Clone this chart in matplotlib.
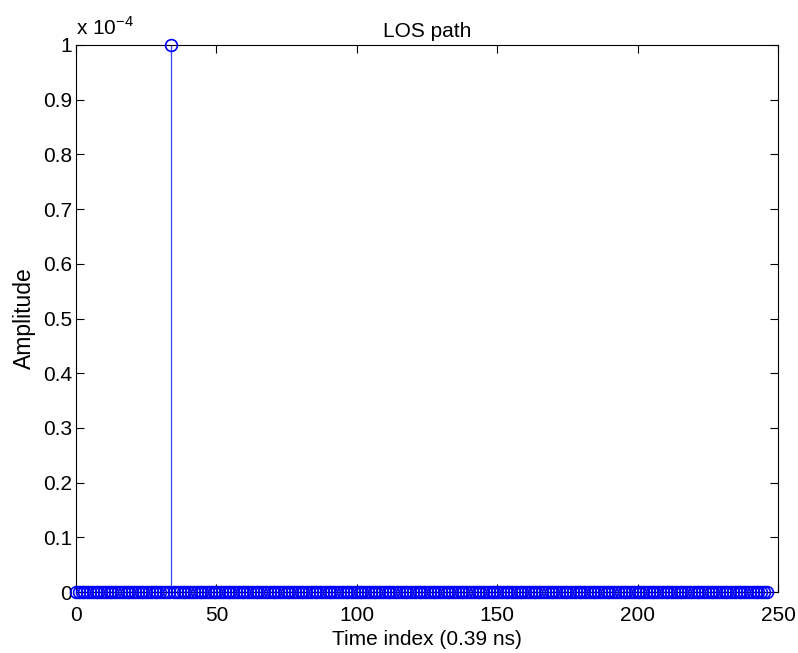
import numpy as np
import matplotlib.pyplot as plt

plt.rcParams['font.family'] = ['Liberation Sans', 'DejaVu Sans']

# channel taps: single line-of-sight component
n_taps = 247
los_index = 34
los_amp = 1e-4

t = np.arange(n_taps)
h = np.zeros(n_taps)
h[los_index] = los_amp

fig = plt.figure(figsize=(7.98, 6.53), dpi=100)
ax = fig.add_axes([0.0952, 0.0934, 0.8797, 0.8377])

markerline, stemlines, baseline = ax.stem(t, h / 1e-4, linefmt='-', markerfmt='o', basefmt='-')
markerline.set_color('#0000ff')
markerline.set_markerfacecolor('none')
markerline.set_markeredgewidth(1.2)
markerline.set_markersize(8.5)
markerline.set_clip_on(False)
markerline.set_zorder(4)
stemlines.set_color('#3344ff')
stemlines.set_linewidth(0.9)
baseline.set_color('#0000ff')
baseline.set_linewidth(0.9)

ax.set_xlim(0, 250)
ax.set_ylim(0, 1)
ax.set_xticks(np.arange(0, 251, 50))
ax.set_yticks(np.arange(0, 1.01, 0.1))
ax.set_yticklabels(['0'] + ['%.1f' % v for v in np.arange(0.1, 0.95, 0.1)] + ['1'])
ax.tick_params(direction='in', top=True, right=True, labelsize=15, length=6, width=0.8)
ax.tick_params(axis='x', pad=10)
ax.tick_params(axis='y', pad=3)
for s in ax.spines.values():
    s.set_linewidth(0.8)

ax.text(0.0, 1.012, r'x 10$^{\mathregular{-4}}$', transform=ax.transAxes, fontsize=15, ha='left', va='bottom')
ax.set_title('LOS path', fontsize=15, pad=6)
ax.set_xlabel('Time index (0.39 ns)', fontsize=15, labelpad=4)
ax.set_ylabel('Amplitude', fontsize=16.5, labelpad=5)

fig.savefig('out.png', dpi=100)
